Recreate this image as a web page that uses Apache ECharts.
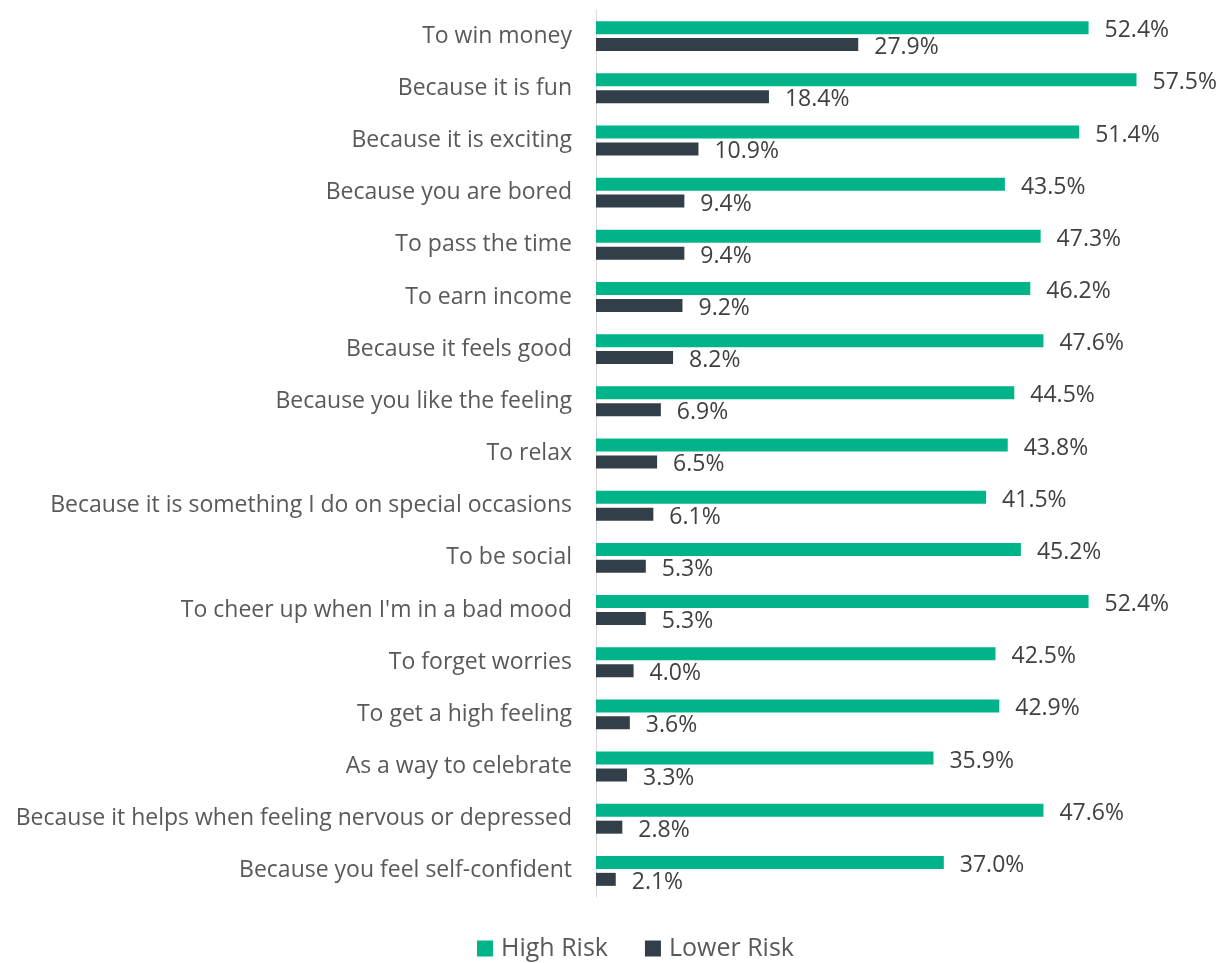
<!DOCTYPE html>
<html>
<head>
<meta charset="utf-8">
<script src="https://cdn.jsdelivr.net/npm/echarts@6/dist/echarts.min.js"></script>
<style>
html,body{margin:0;padding:0;background:#fff;}
#chart{width:1224px;height:963px;}
</style>
</head>
<body>
<div id="chart"></div>
<script>
const categories = [
  "To win money",
  "Because it is fun",
  "Because it is exciting",
  "Because you are bored",
  "To pass the time",
  "To earn income",
  "Because it feels good",
  "Because you like the feeling",
  "To relax",
  "Because it is something I do on special occasions",
  "To be social",
  "To cheer up when I'm in a bad mood",
  "To forget worries",
  "To get a high feeling",
  "As a way to celebrate",
  "Because it helps when feeling nervous or depressed",
  "Because you feel self-confident"
];
const highRisk = [52.4, 57.5, 51.4, 43.5, 47.3, 46.2, 47.6, 44.5, 43.8, 41.5, 45.2, 52.4, 42.5, 42.9, 35.9, 47.6, 37.0];
const lowerRisk = [27.9, 18.4, 10.9, 9.4, 9.4, 9.2, 8.2, 6.9, 6.5, 6.1, 5.3, 5.3, 4.0, 3.6, 3.3, 2.8, 2.1];
const seriesNames = ["High Risk", "Lower Risk"];

const font = "'Open Sans', 'Liberation Sans', sans-serif";
const chart = echarts.init(document.getElementById('chart'), null, {renderer: 'canvas'});
const labelCfg = {
  show: true,
  position: 'right',
  distance: 16,
  color: '#404040',
  fontSize: 23,
  fontFamily: font,
  offset: [0, 3],
  formatter: p => p.value.toFixed(1) + '%'
};
chart.setOption({
  animation: false,
  grid: {left: 596, right: 64, top: 10, bottom: 66, containLabel: false},
  legend: {
    top: 931,
    left: 472,
    itemWidth: 16,
    itemHeight: 16,
    itemGap: 37,
    icon: 'rect',
    textStyle: {color: '#595959', fontSize: 25, fontFamily: font, padding: [0, 0, 0, 3]},
    data: seriesNames
  },
  xAxis: {
    type: 'value',
    min: 0,
    max: 60,
    show: false
  },
  yAxis: {
    type: 'category',
    inverse: true,
    data: categories,
    axisLine: {show: true, lineStyle: {color: '#d9d9d9', width: 1}},
    axisTick: {show: false},
    axisLabel: {color: '#595959', fontSize: 23, fontFamily: font, margin: 24}
  },
  series: [
    {
      name: seriesNames[0],
      type: 'bar',
      data: highRisk,
      barWidth: 13,
      barGap: '30%',
      itemStyle: {color: '#01b388'},
      label: labelCfg
    },
    {
      name: seriesNames[1],
      type: 'bar',
      data: lowerRisk,
      barWidth: 13,
      itemStyle: {color: '#333f48'},
      label: labelCfg
    }
  ]
});
</script>
</body>
</html>
